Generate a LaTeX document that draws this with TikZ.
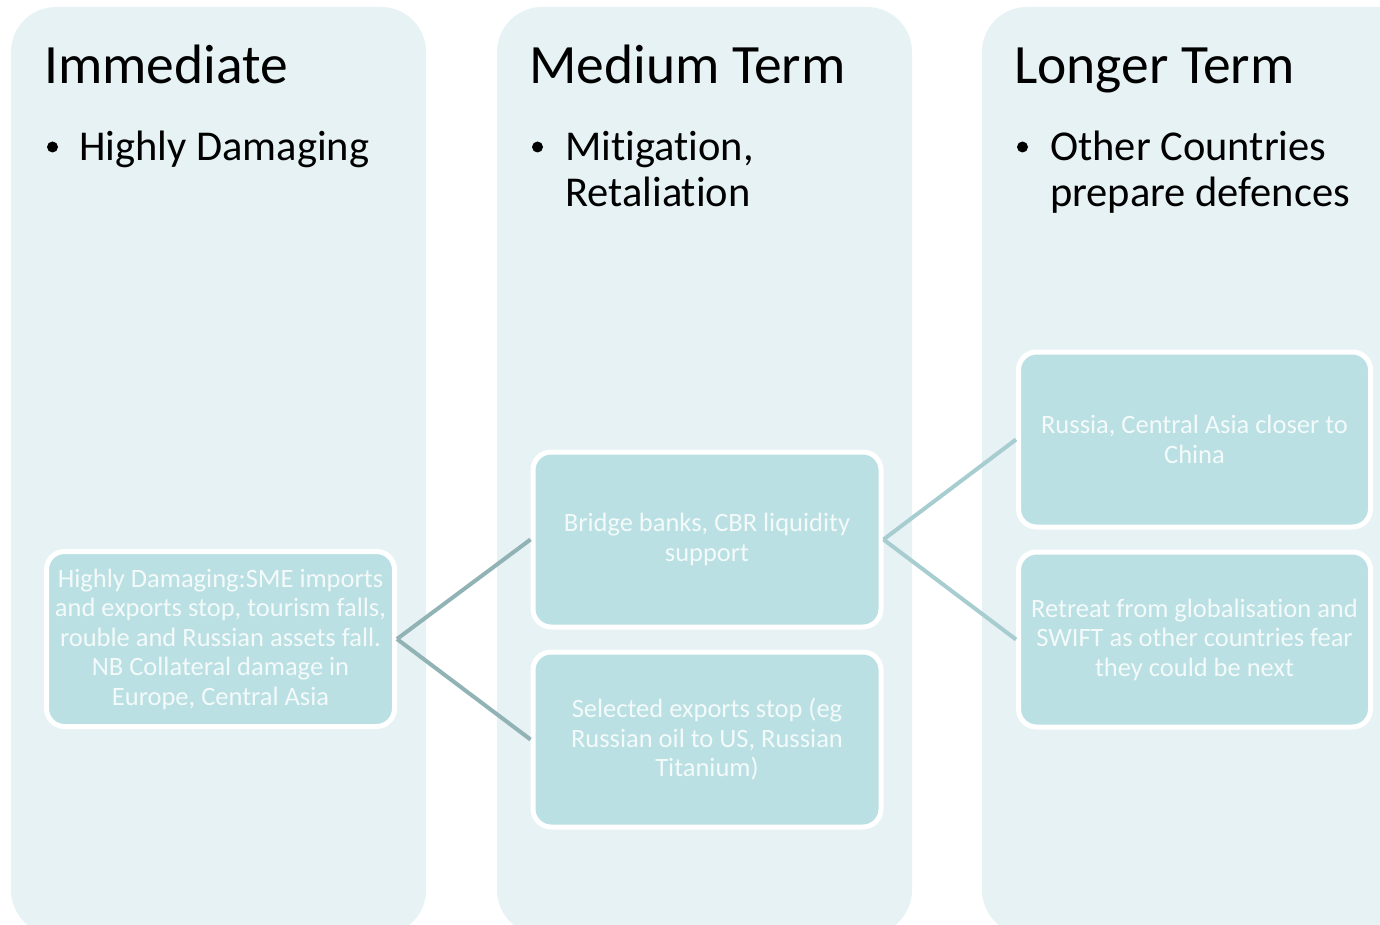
\documentclass[tikz,border=0pt]{standalone}
\usepackage{fontspec}
\setmainfont{Carlito}[Ligatures=NoCommon]
\definecolor{colfill}{HTML}{E6F2F4}
\definecolor{boxfill}{HTML}{BAE0E3}
\definecolor{linkdark}{HTML}{92B3B5}
\definecolor{linklight}{HTML}{A8CDD0}
\definecolor{boxtext}{HTML}{F4FAFA}

\begin{document}
\begin{tikzpicture}[x=1pt,y=-1pt,
  column/.style={fill=colfill, rounded corners=45pt},
  title/.style={anchor=base west, inner sep=0pt, font=\fontsize{55.5}{66}\selectfont},
  bullettext/.style={anchor=base west, inner sep=0pt, align=left, font=\fontsize{42.5}{46}\selectfont},
  stepbox/.style={draw=white, line width=5pt, fill=boxfill, rounded corners=18pt,
    minimum width=348pt, minimum height=175pt, text=boxtext, align=center,
    font=\fontsize{26.5}{29.5}\selectfont, inner sep=0pt},
  link/.style={line width=4pt}]

\useasboundingbox (0,0) rectangle (1380,925);

% three time-horizon columns
\fill[column] (11,7) rectangle (426,935);
\fill[column] (497,7) rectangle (912,935);
\fill[column] (982,7) rectangle (1420,935);

% column headings
\node[title] (t1) at (44,84) {Immediate};
\node[title] (t2) at (529,84) {Medium Term};
\node[title] (t3) at (1014,84) {Longer Term};

% bullet points (base anchor sits on the last line of a multi-line node)
\fill (52.5,147) circle (5.5);
\fill (537.5,147) circle (5.5);
\fill (1022.5,147) circle (5.5);
\node[bullettext] (b1) at (79,161) {Highly Damaging};
\node[bullettext] (b2) at (565,207) {Mitigation,\\Retaliation};
\node[bullettext] (b3) at (1050,207) {Other Countries\\prepare defences};

% effect boxes
\node[stepbox] (A) at (220.5,639) {Highly Damaging:SME imports\\and exports stop, tourism falls,\\rouble and Russian assets fall.\\NB Collateral damage in\\Europe, Central Asia};
\node[stepbox] (B1) at (707,539.5) {Bridge banks, CBR liquidity\\support};
\node[stepbox] (B2) at (707,739.5) {Selected exports stop (eg\\Russian oil to US, Russian\\Titanium)};
\node[stepbox, minimum width=352pt] (C1) at (1194.5,439.5) {Russia, Central Asia closer to\\China};
\node[stepbox, minimum width=352pt] (C2) at (1194.5,639.5) {Retreat from globalisation and\\SWIFT as other countries fear\\they could be next};

% connectors
\draw[link, draw=linkdark] (A.east) -- (B1.west);
\draw[link, draw=linkdark] (A.east) -- (B2.west);
\draw[link, draw=linklight] (B1.east) -- (C1.west);
\draw[link, draw=linklight] (B1.east) -- (C2.west);
\end{tikzpicture}
\end{document}
